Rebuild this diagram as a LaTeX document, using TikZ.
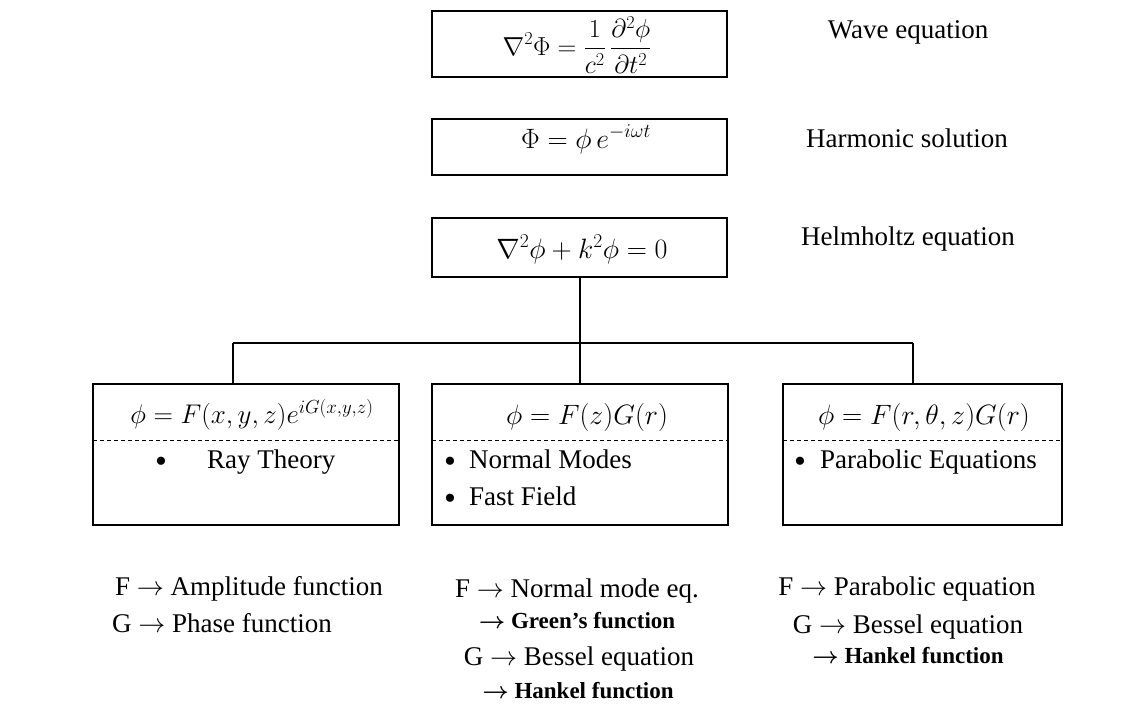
\RequirePackage{fix-cm}
\documentclass[tikz,border=0pt]{standalone}
\usepackage{amsmath}
\usepackage{fontspec}
\setmainfont{Liberation Serif}
\begin{document}
\begin{tikzpicture}[x=1pt,y=-1pt,
  box/.style={draw, line width=1.3pt, inner sep=0pt},
  txt/.style={inner sep=0pt, font=\fontsize{27}{31}\selectfont},
  btxt/.style={inner sep=0pt, font=\fontsize{23}{27}\selectfont\bfseries},
  mth/.style={inner sep=0pt, font=\fontsize{28}{32}\selectfont},
  bul/.style={inner sep=0pt, font=\fontsize{34}{36}\selectfont},
  conn/.style={line width=1.3pt},
  sep/.style={line width=1pt, dash pattern=on 4pt off 3pt}]
\useasboundingbox (0,0) rectangle (1137,704);
% top boxes
\node[box, minimum width=295pt, minimum height=66pt] (b1) at (579.5,44) {};
\node[mth, font=\fontsize{26}{30}\selectfont] (f1) at (577,45) {$\displaystyle \nabla^2\Phi=\frac{1}{c^2}\,\frac{\partial^2\phi}{\partial t^2}$};
\node[box, minimum width=295pt, minimum height=56pt] (b2) at (579.5,147) {};
\node[mth, anchor=base] (f2) at (586,148) {$\Phi=\phi\, e^{-i\omega t}$};
\node[box, minimum width=295pt, minimum height=59pt] (b3) at (579.5,247.5) {};
\node[mth, anchor=base] (f3) at (582,258) {$\nabla^2\phi+k^2\phi=0$};
% right labels
\node[txt, anchor=base] (l1) at (908,38) {Wave equation};
\node[txt, anchor=base] (l2) at (907,147) {Harmonic solution};
\node[txt, anchor=base] (l3) at (908,245) {Helmholtz equation};
% lower boxes
\node[box, minimum width=306pt, minimum height=141pt] (b4) at (246,454.5) {};
\node[box, minimum width=296pt, minimum height=141pt] (b5) at (580,454.5) {};
\node[box, minimum width=279pt, minimum height=141pt] (b6) at (922.5,454.5) {};
% connectors
\coordinate (jc) at (580,343);
\coordinate (jl) at (233,343);
\coordinate (jr) at (913,343);
\draw[conn] (jc |- b3.south) -- (jc);
\draw[conn] (jl) -- (jr);
\draw[conn] (jl) -- (jl |- b4.north);
\draw[conn] (jc) -- (b5.north);
\draw[conn] (jr) -- (jr |- b6.north);
% dashed separators
\coordinate (s4l) at (93,440); \coordinate (s4r) at (399,440);
\coordinate (s5l) at (432,440); \coordinate (s5r) at (728,440);
\coordinate (s6l) at (783,440); \coordinate (s6r) at (1062,440);
\draw[sep] (s4l) -- (s4r);
\draw[sep] (s5l) -- (s5r);
\draw[sep] (s6l) -- (s6r);
% formulas in lower boxes
\node[mth, anchor=base, font=\fontsize{27}{31}\selectfont] (f4) at (252,423) {$\phi=F(x,y,z)e^{iG(x,y,z)}$};
\node[mth, anchor=base] (f5) at (587,424) {$\phi=F(z)G(r)$};
\node[mth, anchor=base] (f6) at (924,424) {$\phi=F(r,\theta,z)G(r)$};
% bullets
\node[bul, anchor=base] (u4) at (161,472) {\textbullet};
\node[txt, anchor=base west] (t4) at (207,468) {Ray Theory};
\node[bul, anchor=base] (u5a) at (450,472) {\textbullet};
\node[txt, anchor=base west] (t5a) at (469,468) {Normal Modes};
\node[bul, anchor=base] (u5b) at (450,509) {\textbullet};
\node[txt, anchor=base west] (t5b) at (469,505) {Fast Field};
\node[bul, anchor=base] (u6) at (800,472) {\textbullet};
\node[txt, anchor=base west] (t6) at (820,468) {Parabolic Equations};
% bottom notes
\node[txt, anchor=base west] (n1) at (115,595) {F $\rightarrow$ Amplitude function};
\node[txt, anchor=base west] (n2) at (112,632) {G $\rightarrow$ Phase function};
\node[txt, anchor=base] (n3) at (577,597) {F $\rightarrow$ Normal mode eq.};
\node[btxt, anchor=base] (n4) at (577,628) {$\boldsymbol{\rightarrow}$ Green’s function};
\node[txt, anchor=base] (n5) at (579,665) {G $\rightarrow$ Bessel equation};
\node[btxt, anchor=base] (n6) at (578,698) {$\boldsymbol{\rightarrow}$ Hankel function};
\node[txt, anchor=base] (n7) at (907,595) {F $\rightarrow$ Parabolic equation};
\node[txt, anchor=base] (n8) at (908,633) {G $\rightarrow$ Bessel equation};
\node[btxt, anchor=base] (n9) at (908,663) {$\boldsymbol{\rightarrow}$ Hankel function};
\end{tikzpicture}
\end{document}
